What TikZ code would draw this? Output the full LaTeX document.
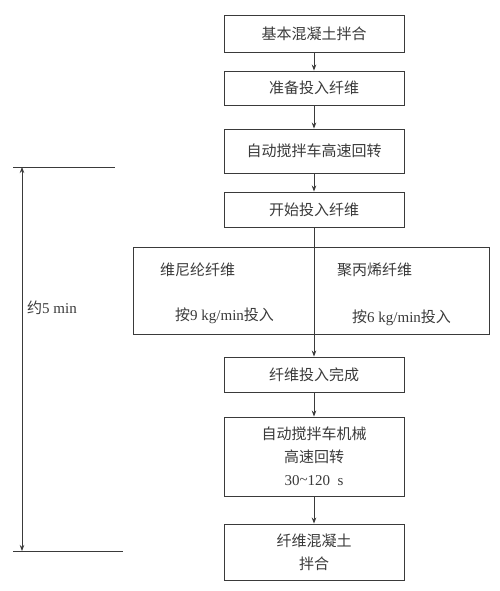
\documentclass[tikz,border=0pt]{standalone}
\usepackage{fontspec}
\setmainfont{Liberation Serif}
\newfontfamily\cjk{Noto Sans CJK SC}
\usetikzlibrary{arrows.meta,positioning,calc}
\definecolor{cL}{HTML}{3a3a3a}
\tikzset{
  stage/.style={draw=cL,line width=.9pt,minimum width=180pt,inner sep=2pt,
                align=center,text=cL,font=\fontsize{15}{23}\selectfont\cjk},
  flow/.style={-{Stealth[length=6pt,width=4.5pt]},line width=.8pt,cL},
  span/.style={{Stealth[length=6pt,width=4.5pt]}-{Stealth[length=6pt,width=4.5pt]},line width=.8pt,cL},
  tick/.style={line width=.9pt,cL},
  lbl/.style={text=cL,font=\fontsize{15}{17}\selectfont,inner sep=0pt},
}

\begin{document}
\begin{tikzpicture}[x=1pt,y=-1pt]
  \useasboundingbox (0,0) rectangle (500,591);
  % main column of steps
  \node[stage,minimum height=37pt] (base) at (314,33.5) {基本混凝土拌合};
  \node[stage,minimum height=34pt] (prep) at (314,88) {准备投入纤维};
  \node[stage,minimum height=44pt] (spin) at (314,151) {自动搅拌车高速回转};
  \node[stage,minimum height=35pt] (feed) at (314,209.5) {开始投入纤维};
  % two kinds of fibre, side by side
  \node[draw=cL,line width=.9pt,minimum width=356pt,minimum height=87pt] (kind) at (311,290.5) {};
  \node[lbl,anchor=west] (vin) at (160,270) {\cjk 维尼纶纤维};
  \node[lbl,anchor=west] (vinr) at (175,316) {{\cjk 按}9 kg/min{\cjk 投入}};
  \node[lbl,anchor=west] (pp) at (337,270) {\cjk 聚丙烯纤维};
  \node[lbl,anchor=west] (ppr) at (352,318) {{\cjk 按}6 kg/min{\cjk 投入}};
  \node[stage,minimum height=35pt] (done) at (314,374.5) {纤维投入完成};
  \node[stage,minimum height=79pt] (mix) at (314,456.5)
    {自动搅拌车机械\\高速回转\\{\rmfamily 30\raisebox{1pt}{\textasciitilde}120\ \ s}};
  \node[stage,minimum height=56pt] (out) at (314,552) {纤维混凝土\\拌合};
  \draw[flow] (base) -- (prep);
  \draw[flow] (prep) -- (spin);
  \draw[flow] (spin) -- (feed);
  \draw[flow] (feed) -- (done);
  \draw[flow] (done) -- (mix);
  \draw[flow] (mix) -- (out);
  % time span on the left
  \coordinate (tA) at (13,167);
  \coordinate (tB) at (115,167);
  \coordinate (bA) at (13,551);
  \coordinate (bB) at (123,551);
  \coordinate (sT) at (22,167);
  \coordinate (sB) at (22,551);
  \draw[tick] (tA) -- (tB);
  \draw[tick] (bA) -- (bB);
  \draw[span] (sT) -- (sB);
  \node[lbl,anchor=west] (dur) at (27,308) {{\cjk 约}5 min};
\end{tikzpicture}
\end{document}
